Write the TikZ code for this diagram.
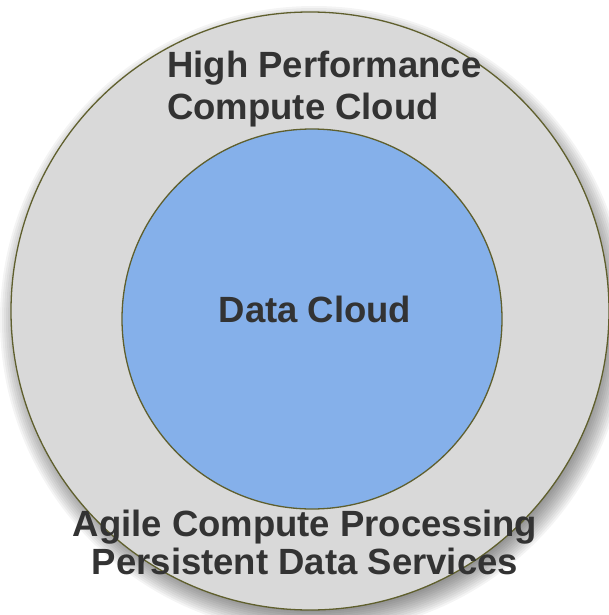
\documentclass[tikz,border=0pt]{standalone}
\usepackage{fontspec}
\setmainfont{Liberation Sans}
\usepackage{tikz}
\usetikzlibrary{shapes.geometric, positioning, calc, shadows}

\definecolor{ringgray}{RGB}{217,217,217}
\definecolor{coreblue}{RGB}{133,176,234}
\definecolor{rimolive}{RGB}{95,95,45}
\definecolor{labelgray}{RGB}{51,51,51}

\begin{document}
\begin{tikzpicture}[x=1pt, y=-1pt, font=\fontsize{36.5}{42}\selectfont\bfseries]
    \tikzstyle{ring} = [circle, draw=rimolive, line width=1.3pt, inner sep=0pt]
    \tikzstyle{label} = [text=labelgray, inner sep=0pt]

    \useasboundingbox (0,0) rectangle (608,615);

    % soft shadow under the outer cloud
    \coordinate (hub) at (310,311);
    \foreach \r in {288,290,...,314}
        \fill[black, opacity=0.045] ($(hub)+(4,9)$) circle[radius=\r pt];

    % outer and inner clouds
    \node (hpc) [ring, fill=ringgray, minimum size=598pt] at (hub) {};
    \node (data) [ring, fill=coreblue, minimum size=380pt] at (312,319) {};

    \node (hpctext) [label, align=left, anchor=north west] at (167,51) {High Performance\\Compute Cloud};
    \node (datatext) [label, anchor=base] at (315,322) {Data Cloud};
    \node (agiletext) [label, align=center, anchor=north,
        font=\fontsize{36.5}{38}\selectfont\bfseries] at (305,510) {Agile Compute Processing\\Persistent Data Services};
\end{tikzpicture}
\end{document}
